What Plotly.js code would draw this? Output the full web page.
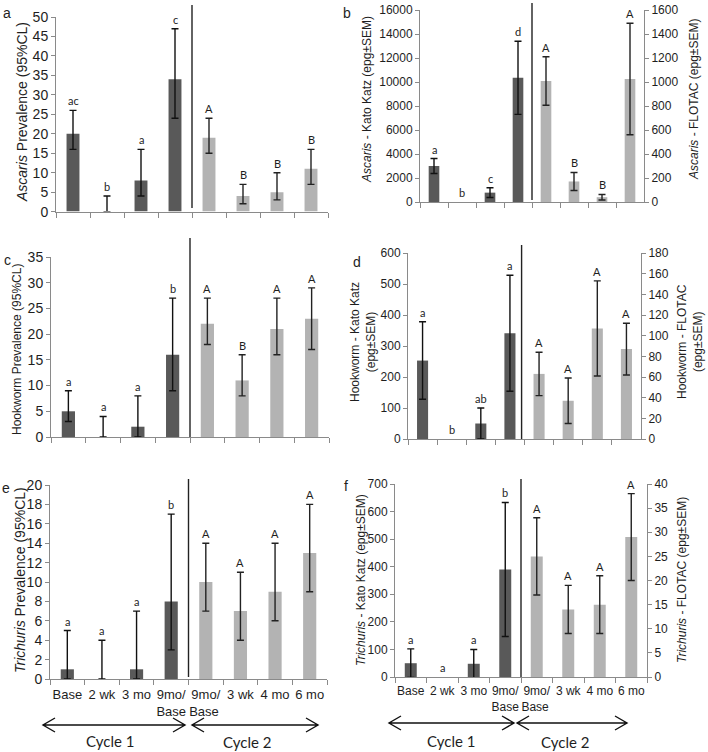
<!DOCTYPE html>
<html><head><meta charset="utf-8">
<script src="https://cdn.plot.ly/plotly-3.0.1.min.js"></script>
<style>html,body{margin:0;padding:0;background:#fff}#chart{width:708px;height:752px}</style>
</head><body><div id="chart"></div>
<script>
// ---------- DATA ----------
const cycle1Times = ['Base', '2 wk', '3 mo', '9mo/<br>Base'];
const cycle2Times = ['9mo/<br>Base ', '3 wk', '4 mo', '6 mo']; // trailing space keeps category distinct

// (a) Ascaris prevalence, % (95% CL)
const ascPrevC1 = [20, 0, 8, 34];
const ascPrevC1Lo = [16, 0, 4, 24];
const ascPrevC1Hi = [26, 4, 16, 47];
const ascPrevC1Sig = ['ac', 'b', 'a', 'c'];
const ascPrevC2 = [19, 4, 5, 11];
const ascPrevC2Lo = [15, 2, 3, 7];
const ascPrevC2Hi = [24, 7, 10, 16];
const ascPrevC2Sig = ['A', 'B', 'B', 'B'];

// (b) Ascaris epg ± SEM: Kato Katz (cycle 1), FLOTAC (cycle 2)
const ascKK = [3000, 0, 780, 10350];
const ascKKSem = [620, null, 410, 3050];
const ascKKSig = ['a', 'b', 'c', 'd'];
const ascFlotac = [1008, 171, 40, 1025];
const ascFlotacSem = [202, 75, 23, 465];
const ascFlotacSig = ['A', 'B', 'B', 'A'];

// (c) Hookworm prevalence
const hkPrevC1 = [5, 0, 2, 16];
const hkPrevC1Lo = [3, 0, 0, 9];
const hkPrevC1Hi = [9, 4, 8, 27];
const hkPrevC1Sig = ['a', 'a', 'a', 'b'];
const hkPrevC2 = [22, 11, 21, 23];
const hkPrevC2Lo = [18, 8, 16, 17];
const hkPrevC2Hi = [27, 16, 27, 29];
const hkPrevC2Sig = ['A', 'B', 'A', 'A'];

// (d) Hookworm epg ± SEM
const hkKK = [253, 0, 50, 341];
const hkKKSem = [125, null, 50, 187];
const hkKKSig = ['a', 'b', 'ab', 'a'];
const hkFlotac = [63, 37, 107, 87];
const hkFlotacSem = [21, 22, 46, 25];
const hkFlotacSig = ['A', 'A', 'A', 'A'];

// (e) Trichuris prevalence
const trPrevC1 = [1, 0, 1, 8];
const trPrevC1Lo = [0, 0, 0, 3];
const trPrevC1Hi = [5, 4, 7, 17];
const trPrevC1Sig = ['a', 'a', 'a', 'b'];
const trPrevC2 = [10, 7, 9, 13];
const trPrevC2Lo = [7, 4, 6, 9];
const trPrevC2Hi = [14, 11, 14, 18];
const trPrevC2Sig = ['A', 'A', 'A', 'A'];

// (f) Trichuris epg ± SEM
const trKK = [50, 0, 48, 390];
const trKKSem = [52, null, 52, 243];
const trKKSig = ['a', 'a', 'a', 'b'];
const trFlotac = [25, 14, 15, 29];
const trFlotacSem = [8, 5, 6, 9];
const trFlotacSig = ['A', 'A', 'A', 'A'];

// ---------- BUILD ----------
const W = 708, H = 752;
const px = v => v / W;
const py = v => 1 - v / H;
const allCats = cycle1Times.concat(cycle2Times);
const DARK = '#595959', LIGHT = '#b3b3b3';
const AXC = '#8a8a8a';
const TXT = '#1e1e1e';
const SANS = 'Liberation Sans, Arial, sans-serif';
const CAL = 'Lato, Open Sans, sans-serif';

const traces = [];
const annotations = [];
const shapes = [];
const layout = {
  width: W, height: H,
  margin: {l: 0, r: 0, t: 0, b: 0},
  paper_bgcolor: '#fff', plot_bgcolor: 'rgba(0,0,0,0)',
  barmode: 'overlay',
  showlegend: false,
  annotations, shapes
};
const axKey = id => id[0] + 'axis' + id.slice(1);

function errObj(vals, lo, hi, sem, color) {
  const base = {type: 'data', visible: true, color: color, thickness: 1.4, width: 3.5};
  if (sem) return Object.assign(base, {array: sem.map(s => s == null ? NaN : s)});
  return Object.assign(base, {
    symmetric: false,
    array: hi.map((h, i) => h - vals[i]),
    arrayminus: vals.map((v, i) => v - lo[i])
  });
}
function tops(vals, hi, sem) {
  return vals.map((v, i) => hi ? hi[i] : v + (sem[i] || 0));
}

function yAxis(opts, side) {
  return {
    range: [0, opts.max], dtick: opts.dtick, tick0: 0, tickformat: 'd',
    showline: true, linecolor: AXC, linewidth: 1,
    ticks: 'outside', ticklen: 4, tickcolor: AXC,
    showgrid: false, zeroline: false,
    tickfont: {family: SANS, size: opts.font, color: TXT},
    side: side, fixedrange: true
  };
}

function addPanel(p) {
  const [x0, x1, yT, yB] = p.box;
  const yLeft = p.yid, yRight = p.y2id || p.yid;
  layout[axKey(p.xid)] = {
    domain: [px(x0), px(x1)], anchor: p.yid,
    type: 'category', categoryorder: 'array', categoryarray: allCats,
    range: [-0.5, 7.5],
    showline: true, linecolor: AXC, linewidth: 1,
    ticks: 'outside', tickson: 'boundaries', ticklen: 5, tickcolor: AXC,
    showgrid: false, zeroline: false,
    showticklabels: !!p.showX, tickangle: 0, ticklabelstandoff: 3,
    tickfont: {family: SANS, size: p.xFont || 13, color: TXT},
    fixedrange: true
  };
  const ly = yAxis(p.yl, 'left');
  ly.domain = [py(yB), py(yT)];
  ly.anchor = p.xid;
  layout[axKey(p.yid)] = ly;
  if (p.y2id) {
    const ry = yAxis(p.yr, 'right');
    ry.overlaying = p.yid;
    ry.anchor = p.xid;
    layout[axKey(p.y2id)] = ry;
  }
  const c1 = p.c1, c2 = p.c2;
  traces.push({
    type: 'bar', x: cycle1Times, y: c1.v, xaxis: p.xid, yaxis: yLeft,
    width: 0.38, marker: {color: DARK, line: {width: 0}},
    error_y: errObj(c1.v, c1.lo, c1.hi, c1.sem, '#111'), hoverinfo: 'skip'
  });
  traces.push({
    type: 'bar', x: cycle2Times, y: c2.v, xaxis: p.xid, yaxis: yRight,
    width: 0.38, marker: {color: LIGHT, line: {width: 0}},
    error_y: errObj(c2.v, c2.lo, c2.hi, c2.sem, '#222'), hoverinfo: 'skip'
  });
  [[c1, cycle1Times, yLeft], [c2, cycle2Times, yRight]].forEach(([c, cats, yid]) => {
    const t = tops(c.v, c.hi, c.sem);
    cats.forEach((cat, i) => {
      annotations.push({
        x: cat, y: t[i], xref: p.xid, yref: yid,
        text: c.sig[i], showarrow: false, yanchor: 'bottom', yshift: 1,
        font: {family: CAL, size: 11, color: TXT}
      });
    });
  });
  // cycle divider
  shapes.push({
    type: 'line', xref: p.xid, yref: 'paper',
    x0: p.div[0], x1: p.div[0], y0: py(p.div[2]), y1: py(p.div[1]),
    line: {color: '#222', width: 1.4}
  });
  // panel letter
  annotations.push({
    x: px(p.label[1]), y: py(p.label[2]), xref: 'paper', yref: 'paper',
    text: p.label[0], showarrow: false, xanchor: 'center', yanchor: 'middle',
    font: {family: SANS, size: 14, color: TXT}
  });
  // axis titles
  p.titles.forEach(t => {
    annotations.push({
      x: px(t.x), y: py(t.y), xref: 'paper', yref: 'paper',
      text: t.text, textangle: -90, showarrow: false,
      xanchor: 'center', yanchor: 'middle',
      font: {family: SANS, size: t.size, color: TXT}
    });
  });
}

addPanel({
  xid: 'x', yid: 'y', box: [56, 328, 17, 211.6],
  yl: {max: 50, dtick: 5, font: 14},
  c1: {v: ascPrevC1, lo: ascPrevC1Lo, hi: ascPrevC1Hi, sig: ascPrevC1Sig},
  c2: {v: ascPrevC2, lo: ascPrevC2Lo, hi: ascPrevC2Hi, sig: ascPrevC2Sig},
  div: [3.5, 5, 208], label: ['a', 7, 13],
  titles: [{text: '<i>Ascaris</i> Prevalence (95%CL)', x: 22, y: 112, size: 14}]
});
addPanel({
  xid: 'x2', yid: 'y2', y2id: 'y3', box: [420, 644, 10, 202],
  yl: {max: 16000, dtick: 2000, font: 12}, yr: {max: 1600, dtick: 200, font: 12},
  c1: {v: ascKK, sem: ascKKSem, sig: ascKKSig},
  c2: {v: ascFlotac, sem: ascFlotacSem, sig: ascFlotacSig},
  div: [3.5, 3, 200], label: ['b', 347, 13],
  titles: [
    {text: '<i>Ascaris</i> - Kato Katz (epg±SEM)', x: 367, y: 100, size: 12},
    {text: '<i>Ascaris</i> - FLOTAC (epg±SEM)', x: 694, y: 100, size: 12}
  ]
});
addPanel({
  xid: 'x3', yid: 'y4', box: [51, 329, 257, 437],
  yl: {max: 35, dtick: 5, font: 14},
  c1: {v: hkPrevC1, lo: hkPrevC1Lo, hi: hkPrevC1Hi, sig: hkPrevC1Sig},
  c2: {v: hkPrevC2, lo: hkPrevC2Lo, hi: hkPrevC2Hi, sig: hkPrevC2Sig},
  div: [3.5, 238, 437], label: ['c', 7, 260],
  titles: [{text: 'Hookworm Prevalence (95%CL)', x: 17, y: 350, size: 12}]
});
addPanel({
  xid: 'x4', yid: 'y5', y2id: 'y6', box: [408, 641, 253, 439],
  yl: {max: 600, dtick: 100, font: 12}, yr: {max: 180, dtick: 20, font: 12},
  c1: {v: hkKK, sem: hkKKSem, sig: hkKKSig},
  c2: {v: hkFlotac, sem: hkFlotacSem, sig: hkFlotacSig},
  div: [3.4, 245, 439], label: ['d', 357, 262],
  titles: [
    {text: 'Hookworm - Kato Katz<br>(epg±SEM)', x: 363, y: 342, size: 12},
    {text: 'Hookworm - FLOTAC<br>(epg±SEM)', x: 690, y: 342, size: 12}
  ]
});
addPanel({
  xid: 'x5', yid: 'y7', box: [50, 327, 485, 679], showX: true, xFont: 13,
  yl: {max: 20, dtick: 2, font: 14},
  c1: {v: trPrevC1, lo: trPrevC1Lo, hi: trPrevC1Hi, sig: trPrevC1Sig},
  c2: {v: trPrevC2, lo: trPrevC2Lo, hi: trPrevC2Hi, sig: trPrevC2Sig},
  div: [3.5, 479, 677], label: ['e', 6, 488],
  titles: [{text: '<i>Trichuris</i> Prevalence (95%CL)', x: 20, y: 580, size: 14}]
});
addPanel({
  xid: 'x6', yid: 'y8', y2id: 'y9', box: [395, 647, 484, 677], showX: true, xFont: 12,
  yl: {max: 700, dtick: 100, font: 12}, yr: {max: 40, dtick: 5, font: 12},
  c1: {v: trKK, sem: trKKSem, sig: trKKSig},
  c2: {v: trFlotac, sem: trFlotacSem, sig: trFlotacSig},
  div: [3.5, 479, 677], label: ['f', 346, 486],
  titles: [
    {text: '<i>Trichuris</i> - Kato Katz (epg±SEM)', x: 361, y: 580, size: 12},
    {text: '<i>Trichuris</i> - FLOTAC (epg±SEM)', x: 682, y: 580, size: 12}
  ]
});

// double-headed cycle arrows and captions
function arrow(xa, xb, y) {
  const h = 12, v = 7;
  const P = (x, yy) => px(x).toFixed(5) + ',' + py(yy).toFixed(5);
  return 'M' + P(xa, y) + ' L' + P(xb, y) +
    ' M' + P(xa + h, y - v) + ' L' + P(xa, y) + ' L' + P(xa + h, y + v) +
    ' M' + P(xb - h, y - v) + ' L' + P(xb, y) + ' L' + P(xb - h, y + v);
}
[[43, 185, 725], [192, 318, 725], [389, 514, 723], [517, 627, 723]].forEach(a => {
  shapes.push({type: 'path', xref: 'paper', yref: 'paper', path: arrow(a[0], a[1], a[2]),
    line: {color: '#111', width: 1.4}});
});
[['Cycle 1', 110, 741], ['Cycle 2', 247, 742], ['Cycle 1', 451, 741], ['Cycle 2', 565, 742]].forEach(c => {
  annotations.push({x: px(c[1]), y: py(c[2]), xref: 'paper', yref: 'paper', text: c[0],
    showarrow: false, xanchor: 'center', yanchor: 'middle',
    font: {family: CAL, size: 15, color: TXT}});
});

Plotly.newPlot('chart', traces, layout, {staticPlot: true, displayModeBar: false});
</script>
</body></html>
